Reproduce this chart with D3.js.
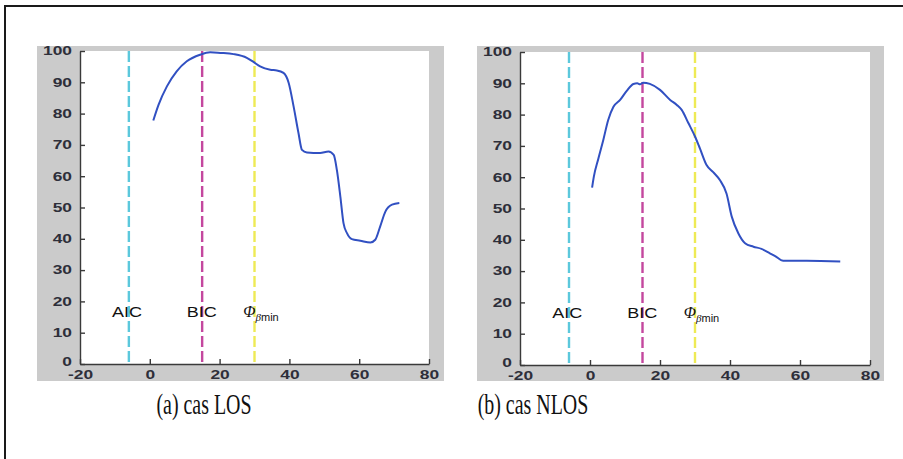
<!DOCTYPE html>
<html lang="en">
  <head>
    <meta charset="utf-8">
    <title>AIC BIC LOS NLOS</title>
    <script src="https://d3js.org/d3.v7.min.js"></script>
    <style>
      body { margin: 0; background: #fff; }
      .tick text { font-family: "Liberation Sans", Arial, sans-serif; font-weight: bold; font-size: 12px; fill: #2e2f3a; }
      .domain, .tick line { stroke: #3a3a3a; stroke-width: 1.4px; }
    </style>
  </head>
  <body>
    <script>
      // ratio vs order
      var losX = [1, 2.5, 4.9, 7.7, 10.6, 14.4, 17.3, 20.2, 24, 27.8, 29.7, 31.6, 34.5, 36.4, 38.3, 39.8, 41.2, 42.6, 43.6, 45, 48.8, 51.2, 52.7, 53.6, 54.6, 55.5, 56.5, 57.9, 60.3, 63.2, 64.6, 66, 67.5, 69.4, 71.5];
      var losY = [77.8, 82.8, 88.7, 93.5, 96.7, 98.8, 99.6, 99.4, 99, 97.8, 96.5, 95.1, 94, 93.8, 93, 89.8, 82.3, 73.8, 68.4, 67.6, 67.4, 67.9, 66.8, 62, 53.5, 45, 41.8, 39.9, 39.4, 38.8, 39.7, 43.9, 48.7, 50.9, 51.4];

      var nlosX = [0.6, 1.1, 2.4, 3.8, 5.2, 6.7, 8.6, 10.5, 12.4, 13.5, 14.3, 15.2, 17.1, 20, 22.9, 24.8, 26.2, 28.1, 30, 31.4, 33.3, 35.2, 37.1, 39, 40.5, 42.4, 44.3, 46.7, 49, 51.4, 52.9, 55.2, 61.9, 71.5];
      var nlosY = [56.7, 60.2, 66, 71.9, 78.3, 82.5, 84.7, 87.6, 89.8, 90, 89.7, 90.2, 89.8, 87.9, 84.7, 83.1, 81.5, 77.3, 73, 69.2, 63.9, 61.6, 59.1, 54.8, 47.4, 42, 38.9, 37.8, 37.1, 35.7, 34.8, 33.3, 33.3, 33.1];

      var markerNames = ["AIC", "BIC", "Phi"];
      var markerX = [-6, 15, 30];
      var markerColors = ["#5cc8dc", "#c4479e", "#eeea55"];

      var xTicks = [-20, 0, 20, 40, 60, 80];
      var yTicks = [0, 10, 20, 30, 40, 50, 60, 70, 80, 90, 100];
      var captions = ["(a) cas LOS", "(b) cas NLOS"];

      var width = 903, height = 459;

      var svg = d3.select("body").append("svg")
          .attr("width", width)
          .attr("height", height);

      // outer frame (only top and left edges visible)
      svg.append("path")
          .attr("d", "M5," + height + "V6H" + width)
          .attr("fill", "none")
          .attr("stroke", "#1a1a1a")
          .attr("stroke-width", 2);

      var panels = [
        { xs: losX, ys: losY, bg: [37, 46, 407, 335], box: [80, 51, 429, 364], cap: 204 },
        { xs: nlosX, ys: nlosY, bg: [477, 46, 407, 335], box: [520, 52, 870, 365], cap: 533 }
      ];

      var plain = function(d) { return String(d); };

      panels.forEach(function(p, i) {
        var g = svg.append("g");

        g.append("rect")
            .attr("x", p.bg[0]).attr("y", p.bg[1])
            .attr("width", p.bg[2]).attr("height", p.bg[3])
            .attr("fill", "#cbcbcb");

        var x = d3.scaleLinear().domain([-20, 80]).range([p.box[0], p.box[2]]);
        var y = d3.scaleLinear().domain([0, 100]).range([p.box[3], p.box[1]]);

        g.append("rect")
            .attr("x", p.box[0]).attr("y", p.box[1])
            .attr("width", p.box[2] - p.box[0]).attr("height", p.box[3] - p.box[1])
            .attr("fill", "#fff");

        // dashed markers
        markerX.forEach(function(mx, j) {
          g.append("line")
              .attr("x1", x(mx)).attr("x2", x(mx))
              .attr("y1", y(100)).attr("y2", y(0))
              .attr("stroke", markerColors[j])
              .attr("stroke-width", 2.4)
              .attr("stroke-dasharray", "11,4");
        });

        var pts = d3.zip(p.xs, p.ys);
        var line = d3.line()
            .x(function(d) { return x(d[0]); })
            .y(function(d) { return y(d[1]); })
            .curve(d3.curveMonotoneX);

        g.append("path")
            .datum(pts)
            .attr("d", line)
            .attr("fill", "none")
            .attr("stroke", "#3150c2")
            .attr("stroke-width", 2);

        // axes, ticks pointing inward like matlab
        var sx = 1.45;
        g.append("g")
            .attr("transform", "translate(0," + p.box[3] + ")")
            .call(d3.axisBottom(x).tickValues(xTicks).tickFormat(plain).tickSizeInner(-5).tickSizeOuter(0).tickPadding(6))
            .selectAll(".tick text")
            .attr("transform", "scale(" + sx + ",1)");

        g.append("g")
            .attr("transform", "translate(" + p.box[0] + ",0)")
            .call(d3.axisLeft(y).tickValues(yTicks).tickFormat(plain).tickSizeInner(-5).tickSizeOuter(0).tickPadding(8))
            .selectAll(".tick text")
            .attr("x", -8 / sx)
            .attr("dy", function(d) { return d === 0 ? "0.1em" : "0.32em"; })
            .attr("transform", "scale(" + sx + ",1)");

        // marker labels
        var ly = y(15);
        var lab = [
          { t: "AIC", v: markerX[0] - 0.5 },
          { t: "BIC", v: markerX[1] - 0.1 }
        ];
        lab.forEach(function(l) {
          g.append("text")
              .attr("x", x(l.v) / 1.2)
              .attr("y", ly)
              .attr("transform", "scale(1.2,1)")
              .attr("text-anchor", "middle")
              .attr("font-family", "Liberation Sans, Arial, sans-serif")
              .attr("font-size", 15)
              .attr("fill", "#111")
              .text(l.t);
        });

        var phi = g.append("text")
            .attr("x", x(markerX[2] - 3.2))
            .attr("y", ly)
            .attr("font-family", "Liberation Serif, Times New Roman, serif")
            .attr("fill", "#111");
        phi.append("tspan")
            .attr("font-style", "italic")
            .attr("font-size", 16)
            .text("\u03A6");
        phi.append("tspan")
            .attr("dy", 4)
            .attr("font-size", 11)
            .attr("font-style", "italic")
            .text("\u03B2");
        phi.append("tspan")
            .attr("font-family", "Liberation Sans, Arial, sans-serif")
            .attr("font-size", 11)
            .text("min");

        // caption
        svg.append("text")
            .attr("x", p.cap / 0.7)
            .attr("y", 414)
            .attr("transform", "scale(0.7,1)")
            .attr("text-anchor", "middle")
            .attr("font-family", "Liberation Serif, Times New Roman, serif")
            .attr("font-size", 28.5)
            .attr("fill", "#111")
            .text(captions[i]);
      });
    </script>
  </body>
</html>
